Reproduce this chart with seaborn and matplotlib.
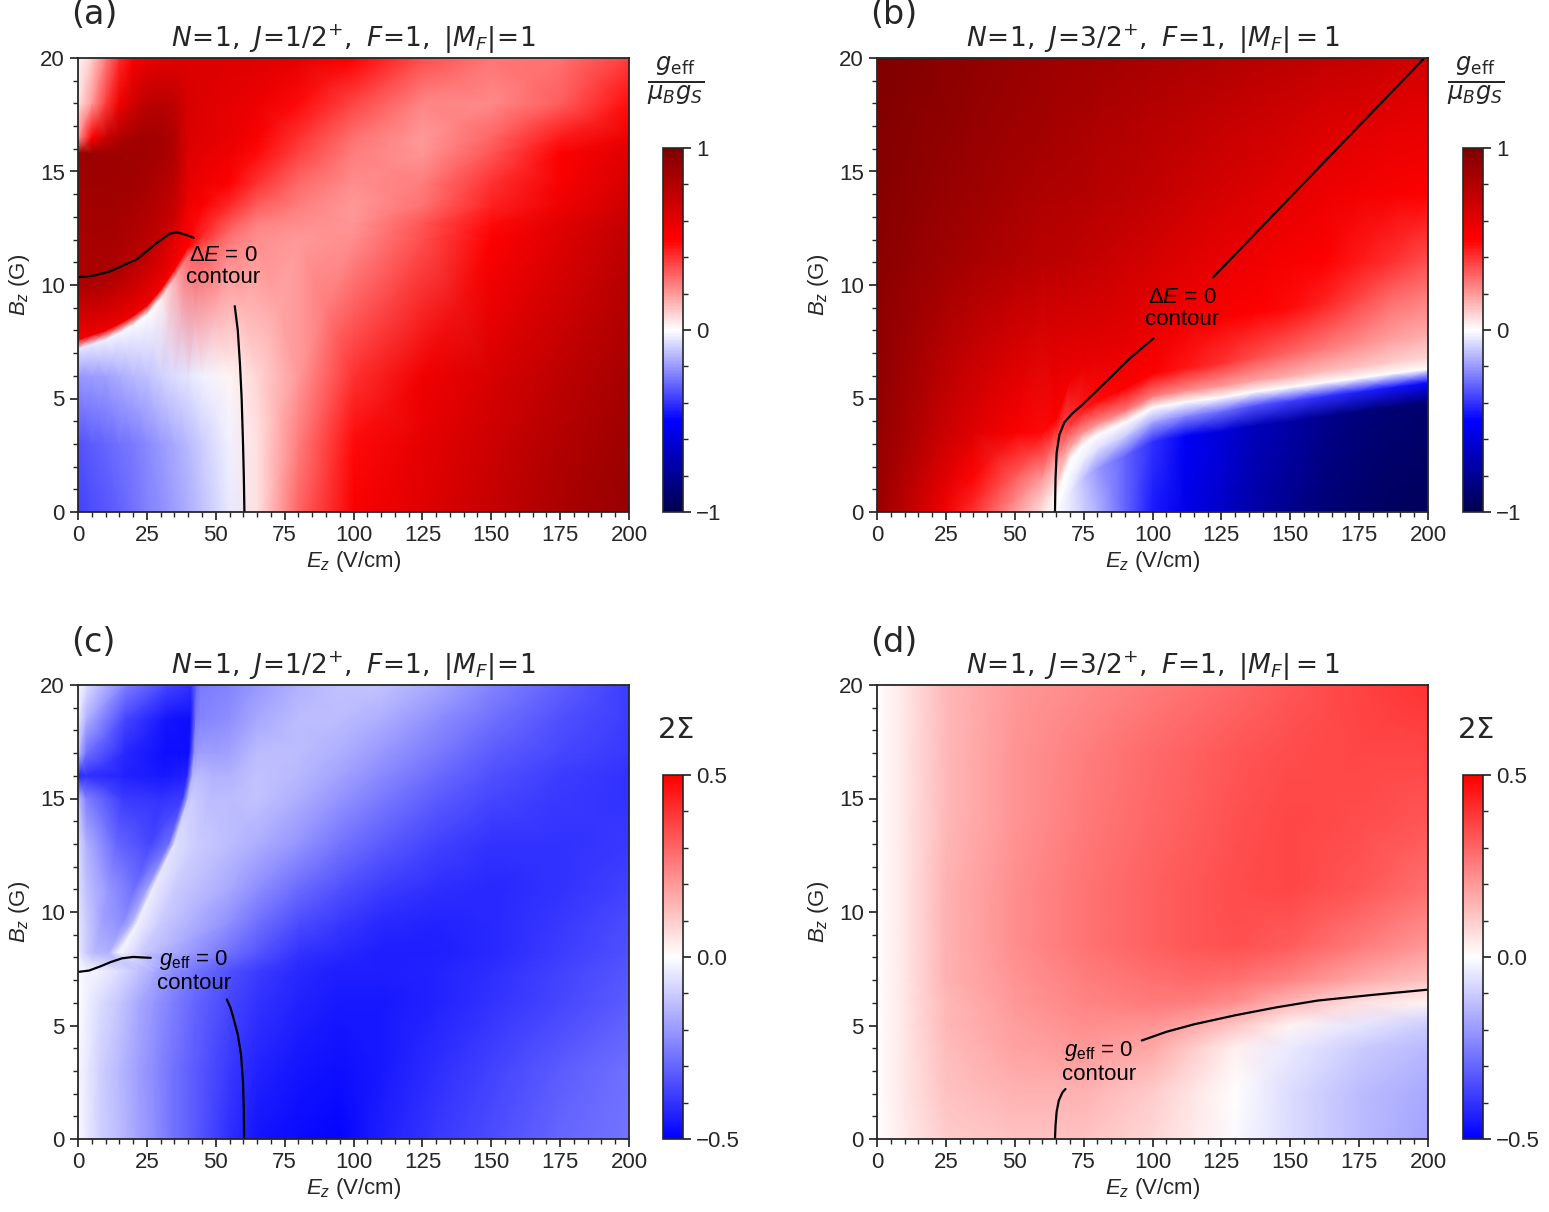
import numpy as np
import matplotlib
matplotlib.use("Agg")
import matplotlib.pyplot as plt
import seaborn as sns
from matplotlib.ticker import MultipleLocator

# ======================= Panel (a): g_eff, N=1, J=1/2+ =======================
# sample columns (E, V/cm); each row of sample B positions (G) follows the
# sharp red/white edge in the upper-left corner
a_E = [0, 5, 10, 15, 20, 25, 30, 35, 40, 45, 55, 65, 80, 100, 125, 150, 175, 200]
a_B_rows = [
    [0] * 18,
    [3] * 18,
    [6] * 18,
    [7.2, 7.4, 7.6, 7.9, 8.25, 8.7, 9.4, 10.3, 11.3, 11.6, 11.8, 12, 12, 12, 12, 12, 12, 12],
    [7.6, 7.8, 8.0, 8.3, 8.65, 9.1, 9.8, 10.7, 11.7, 12.1, 12.4, 12.6, 12.7, 12.7, 12.7, 12.7, 12.7, 12.7],
    [9.8, 10.0, 10.2, 10.5, 10.85, 11.3, 12.0, 12.9, 13.5, 13.5, 13.5, 13.5, 13.5, 13.5, 13.5, 13.5, 13.5, 13.5],
    [14.5] * 18,
    [15.8] * 18,
    [16.5] * 18,
    [18] * 18,
    [20] * 18,
]
a_g = [
    [-0.37, -0.35, -0.33, -0.31, -0.28, -0.25, -0.22, -0.19, -0.16, -0.12, -0.04, 0.06, 0.30, 0.52, 0.62, 0.72, 0.83, 0.90],
    [-0.34, -0.32, -0.30, -0.28, -0.26, -0.23, -0.20, -0.17, -0.14, -0.10, -0.03, 0.06, 0.25, 0.48, 0.60, 0.70, 0.80, 0.88],
    [-0.20, -0.19, -0.18, -0.16, -0.14, -0.12, -0.09, -0.07, -0.05, -0.03, 0.02, 0.08, 0.20, 0.40, 0.55, 0.65, 0.75, 0.85],
    [-0.05, -0.04, -0.03, -0.02, -0.01, 0.00, 0.03, 0.15, 0.30, 0.33, 0.25, 0.22, 0.20, 0.22, 0.35, 0.50, 0.63, 0.75],
    [0.55, 0.57, 0.57, 0.57, 0.57, 0.56, 0.55, 0.52, 0.50, 0.42, 0.30, 0.24, 0.22, 0.21, 0.33, 0.48, 0.61, 0.73],
    [0.82, 0.82, 0.82, 0.80, 0.78, 0.75, 0.72, 0.70, 0.56, 0.52, 0.42, 0.32, 0.25, 0.20, 0.28, 0.43, 0.56, 0.69],
    [0.88, 0.88, 0.88, 0.87, 0.86, 0.84, 0.80, 0.76, 0.60, 0.56, 0.50, 0.40, 0.29, 0.22, 0.25, 0.40, 0.53, 0.66],
    [0.90, 0.89, 0.88, 0.88, 0.87, 0.86, 0.85, 0.80, 0.63, 0.60, 0.56, 0.48, 0.37, 0.25, 0.21, 0.33, 0.50, 0.62],
    [0.20, 0.50, 0.70, 0.80, 0.85, 0.86, 0.85, 0.80, 0.64, 0.62, 0.58, 0.52, 0.40, 0.28, 0.20, 0.30, 0.45, 0.57],
    [0.05, 0.20, 0.38, 0.55, 0.68, 0.75, 0.78, 0.75, 0.65, 0.63, 0.60, 0.57, 0.48, 0.36, 0.24, 0.23, 0.32, 0.47],
    [0.02, 0.10, 0.25, 0.42, 0.52, 0.58, 0.60, 0.62, 0.63, 0.64, 0.63, 0.62, 0.60, 0.50, 0.35, 0.27, 0.28, 0.38],
]
a_c1_E = [0, 5, 11.6, 21.6, 28, 33.3, 36, 39, 42]
a_c1_B = [10.34, 10.4, 10.6, 11.15, 11.8, 12.26, 12.32, 12.22, 12.08]
a_c2_E = [56.9, 58.0, 58.8, 59.4, 59.9, 60.2, 60.4]
a_c2_B = [9.07, 8.0, 6.5, 5.0, 3.0, 1.5, 0.0]

# ======================= Panel (b): g_eff, N=1, J=3/2+ =======================
b_E = [0, 15, 25, 35, 50, 60, 65, 70, 75, 80, 90, 100, 112, 125, 137, 150, 162, 175, 187, 200]
# B of the white (g_eff = 0) edge read at each column
b_B_edge = [0, 0, 0, 0, 0, 0, 0.6, 2.3, 3.0, 3.4, 3.95, 4.6, 4.85, 5.05, 5.3, 5.5, 5.7, 5.9, 6.1, 6.3]
# sample rows: offsets from the edge, then fixed B rows
b_edge_offsets = [-1.5, -0.6, 0.0, 0.5, 1.5, 3.5]
b_B_fixed = [11, 14, 17, 20]
b_g = [
    [0.90, 0.70, 0.55, 0.40, 0.20, 0.07, 0.00, -0.04, -0.10, -0.15, -0.30, -0.45, -0.56, -0.65, -0.75, -0.82, -0.88, -0.92, -0.94, -0.96],
    [0.90, 0.70, 0.55, 0.40, 0.20, 0.07, 0.00, -0.04, -0.12, -0.20, -0.30, -0.40, -0.52, -0.60, -0.68, -0.75, -0.82, -0.86, -0.89, -0.90],
    [0.90, 0.70, 0.55, 0.40, 0.20, 0.07, 0.00, -0.01, -0.03, -0.06, -0.10, -0.16, -0.22, -0.28, -0.33, -0.37, -0.40, -0.43, -0.46, -0.48],
    [0.90, 0.70, 0.55, 0.40, 0.20, 0.07, 0.00, 0.00, 0.00, 0.00, 0.00, 0.00, 0.00, 0.00, 0.00, 0.00, 0.00, 0.00, 0.00, 0.00],
    [0.90, 0.71, 0.57, 0.43, 0.24, 0.10, 0.06, 0.15, 0.20, 0.22, 0.25, 0.25, 0.22, 0.20, 0.18, 0.16, 0.14, 0.12, 0.10, 0.08],
    [0.91, 0.74, 0.61, 0.49, 0.32, 0.20, 0.16, 0.38, 0.45, 0.48, 0.50, 0.50, 0.46, 0.40, 0.35, 0.30, 0.26, 0.22, 0.18, 0.16],
    [0.92, 0.80, 0.70, 0.62, 0.52, 0.48, 0.50, 0.56, 0.58, 0.60, 0.60, 0.58, 0.55, 0.52, 0.50, 0.48, 0.43, 0.36, 0.30, 0.27],
    [0.96, 0.90, 0.87, 0.84, 0.79, 0.77, 0.76, 0.75, 0.73, 0.72, 0.69, 0.66, 0.62, 0.58, 0.56, 0.53, 0.50, 0.45, 0.40, 0.34],
    [0.97, 0.93, 0.90, 0.88, 0.84, 0.82, 0.81, 0.80, 0.79, 0.78, 0.76, 0.74, 0.70, 0.66, 0.63, 0.60, 0.57, 0.54, 0.52, 0.50],
    [0.98, 0.95, 0.93, 0.91, 0.88, 0.86, 0.85, 0.84, 0.83, 0.82, 0.80, 0.78, 0.75, 0.72, 0.70, 0.67, 0.64, 0.62, 0.60, 0.58],
    [1.00, 0.97, 0.95, 0.93, 0.90, 0.89, 0.88, 0.87, 0.87, 0.86, 0.85, 0.83, 0.82, 0.80, 0.78, 0.76, 0.74, 0.72, 0.70, 0.68],
]
b_c1_E = [64.6, 64.8, 65.2, 66.2, 68.0, 71.0, 74.5, 84.8, 92.0, 100.4]
b_c1_B = [0.0, 1.5, 2.6, 3.4, 3.95, 4.35, 4.72, 5.94, 6.8, 7.65]
b_c2_E = [122.0, 198.3]
b_c2_B = [10.34, 19.95]

# ======================= Panel (c): 2Sigma, N=1, J=1/2+ =======================
c_B = [0, 3, 6, 7.4, 8.2, 9.5, 11, 13, 15, 16, 17, 18.5, 20]
# per-row sample E positions: the first nine follow the light curved edge
c_E_rows = [
    [0, 3, 8, 15, 22, 28, 34, 42, 55],
    [0, 3, 8, 15, 22, 28, 34, 42, 55],
    [0, 3, 8, 15, 22, 28, 34, 42, 55],
    [0, 3, 8, 15, 22, 28, 34, 42, 55],
    [0, 3, 6, 11, 13, 15, 16.5, 23, 55],
    [0, 3, 8.6, 16.1, 19.5, 21.5, 23, 29.5, 55],
    [0, 3, 10.8, 20.3, 25, 27, 28.5, 35, 55],
    [0, 3, 14, 26.3, 33, 35, 36.5, 43, 55],
    [0, 3, 16, 30, 38, 40, 41.5, 48, 55],
    [0, 3, 16.6, 31.1, 39.5, 41.5, 43, 49.5, 55],
    [0, 3, 16.9, 31.7, 40.3, 42.3, 43.8, 50.3, 55],
    [0, 3, 17.1, 32.1, 40.8, 42.8, 44.3, 50.8, 55],
    [0, 3, 17.2, 32.3, 41, 43, 44.5, 51, 55],
]
c_E_right = [65, 80, 95, 110, 130, 150, 175, 200]
c_s = [
    [-0.01, -0.04, -0.09, -0.13, -0.18, -0.22, -0.27, -0.32, -0.41, -0.46, -0.48, -0.49, -0.44, -0.39, -0.35, -0.30, -0.27],
    [-0.02, -0.04, -0.09, -0.14, -0.19, -0.23, -0.27, -0.32, -0.39, -0.43, -0.46, -0.47, -0.45, -0.41, -0.37, -0.32, -0.28],
    [0.00, -0.03, -0.07, -0.11, -0.17, -0.21, -0.25, -0.30, -0.36, -0.40, -0.43, -0.45, -0.45, -0.43, -0.40, -0.36, -0.32],
    [-0.01, -0.02, -0.03, -0.07, -0.12, -0.17, -0.22, -0.27, -0.34, -0.38, -0.42, -0.44, -0.44, -0.43, -0.41, -0.37, -0.33],
    [-0.04, -0.10, -0.14, -0.15, -0.08, -0.02, -0.03, -0.10, -0.28, -0.33, -0.40, -0.42, -0.44, -0.44, -0.42, -0.38, -0.34],
    [-0.05, -0.10, -0.18, -0.22, -0.15, -0.03, -0.04, -0.10, -0.22, -0.28, -0.35, -0.39, -0.42, -0.43, -0.42, -0.39, -0.35],
    [-0.06, -0.12, -0.20, -0.28, -0.18, -0.04, -0.05, -0.10, -0.17, -0.22, -0.29, -0.34, -0.38, -0.41, -0.42, -0.40, -0.37],
    [-0.07, -0.15, -0.30, -0.36, -0.28, -0.06, -0.07, -0.10, -0.13, -0.16, -0.21, -0.27, -0.32, -0.37, -0.40, -0.40, -0.39],
    [-0.12, -0.25, -0.38, -0.40, -0.38, -0.12, -0.10, -0.13, -0.13, -0.12, -0.16, -0.21, -0.26, -0.32, -0.36, -0.39, -0.40],
    [-0.42, -0.40, -0.43, -0.45, -0.43, -0.15, -0.13, -0.15, -0.15, -0.12, -0.14, -0.18, -0.23, -0.29, -0.34, -0.38, -0.40],
    [-0.12, -0.28, -0.42, -0.47, -0.47, -0.20, -0.19, -0.19, -0.18, -0.13, -0.13, -0.16, -0.20, -0.26, -0.32, -0.36, -0.39],
    [-0.04, -0.15, -0.36, -0.46, -0.47, -0.26, -0.24, -0.23, -0.22, -0.17, -0.13, -0.13, -0.16, -0.22, -0.28, -0.34, -0.38],
    [-0.01, -0.06, -0.25, -0.36, -0.40, -0.30, -0.26, -0.25, -0.24, -0.20, -0.15, -0.12, -0.12, -0.17, -0.24, -0.31, -0.38],
]
c_c1_E = [0, 4, 8, 12, 16, 20, 26.4]
c_c1_B = [7.36, 7.42, 7.6, 7.8, 7.96, 8.02, 7.98]
c_c2_E = [54.0, 55.3, 56.5, 58.0, 59.2, 59.9, 60.2, 60.3]
c_c2_B = [6.15, 5.8, 5.3, 4.6, 3.7, 2.5, 1.2, 0.0]

# ======================= Panel (d): 2Sigma, N=1, J=3/2+ =======================
d_E = [0, 10, 25, 50, 75, 100, 115, 130, 150, 175, 200]
d_B = [0, 2, 4, 5, 6, 7, 8.5, 11, 14, 17, 20]
d_s = [
    [0.00, 0.04, 0.10, 0.12, 0.12, 0.08, 0.04, -0.01, -0.07, -0.13, -0.18],
    [0.00, 0.05, 0.12, 0.15, 0.15, 0.10, 0.05, 0.00, -0.07, -0.13, -0.17],
    [0.00, 0.05, 0.13, 0.18, 0.20, 0.17, 0.10, 0.03, -0.04, -0.10, -0.14],
    [0.00, 0.05, 0.14, 0.19, 0.22, 0.21, 0.17, 0.11, 0.02, -0.05, -0.10],
    [0.00, 0.05, 0.14, 0.20, 0.24, 0.26, 0.25, 0.22, 0.14, 0.06, 0.02],
    [0.00, 0.05, 0.15, 0.21, 0.25, 0.28, 0.29, 0.28, 0.24, 0.17, 0.12],
    [0.00, 0.05, 0.15, 0.22, 0.27, 0.31, 0.33, 0.34, 0.32, 0.26, 0.20],
    [0.00, 0.05, 0.15, 0.22, 0.27, 0.31, 0.33, 0.35, 0.36, 0.33, 0.28],
    [0.00, 0.05, 0.14, 0.21, 0.26, 0.30, 0.32, 0.34, 0.36, 0.35, 0.33],
    [0.00, 0.05, 0.14, 0.21, 0.25, 0.29, 0.31, 0.33, 0.35, 0.36, 0.36],
    [0.00, 0.05, 0.14, 0.20, 0.23, 0.26, 0.28, 0.30, 0.33, 0.37, 0.40],
]
d_c1_E = [64.6, 64.8, 65.2, 66.0, 67.3, 68.4]
d_c1_B = [0.0, 0.6, 1.2, 1.7, 2.05, 2.2]
d_c2_E = [96.1, 105, 115, 130, 145, 160, 180, 200]
d_c2_B = [4.34, 4.72, 5.05, 5.45, 5.8, 6.1, 6.35, 6.58]

titles = [
    r"$N\!=\!1,\ J\!=\!1/2^{+},\ F\!=\!1,\ |M_F|\!=\!1$",
    r"$N\!=\!1,\ J\!=\!3/2^{+},\ F\!=\!1,\ |M_F| = 1$",
    r"$N\!=\!1,\ J\!=\!1/2^{+},\ F\!=\!1,\ |M_F|\!=\!1$",
    r"$N\!=\!1,\ J\!=\!3/2^{+},\ F\!=\!1,\ |M_F| = 1$",
]
panel_labels = ["(a)", "(b)", "(c)", "(d)"]

# ---------------- sample grids ----------------
a_X = np.tile(np.array(a_E, float), (len(a_B_rows), 1))
a_Y = np.array(a_B_rows, float)

b_edge = np.array(b_B_edge, float)
b_Y = np.vstack([np.zeros_like(b_edge)]
                + [np.clip(b_edge + o, 0, 20) for o in b_edge_offsets]
                + [np.full_like(b_edge, v) for v in b_B_fixed])
b_X = np.tile(np.array(b_E, float), (b_Y.shape[0], 1))

c_X = np.array([row + c_E_right for row in c_E_rows], float)
c_Y = np.tile(np.array(c_B, float)[:, None], (1, c_X.shape[1]))

d_X, d_Y = np.meshgrid(np.array(d_E, float), np.array(d_B, float))

# ---------------- style ----------------
sns.set_theme(style="ticks")
plt.rcParams["font.family"] = ["Liberation Sans", "DejaVu Sans"]
plt.rcParams["mathtext.fontset"] = "custom"
plt.rcParams["mathtext.rm"] = "Liberation Sans"
plt.rcParams["mathtext.it"] = "Liberation Sans:italic"
plt.rcParams["mathtext.bf"] = "Liberation Sans:bold"
plt.rcParams["xtick.major.size"] = 6
plt.rcParams["ytick.major.size"] = 6
plt.rcParams["xtick.minor.size"] = 3.5
plt.rcParams["ytick.minor.size"] = 3.5
plt.rcParams["xtick.minor.visible"] = True
plt.rcParams["ytick.minor.visible"] = True

W, H = 1549, 1212
fig = plt.figure(figsize=(W / 100, H / 100), dpi=100)


def fx(px):
    return px / W


def fy(py):
    return 1 - py / H


ax_left = [78, 877]
ax_top = [58, 685]
cb_left = [663, 1463]

panels = [
    (a_X, a_Y, a_g, "seismic", -1, 1, [(a_c1_E, a_c1_B), (a_c2_E, a_c2_B)],
     "Δ$E$ = 0\ncontour", (52.7, 10.8)),
    (b_X, b_Y, b_g, "seismic", -1, 1, [(b_c1_E, b_c1_B), (b_c2_E, b_c2_B)],
     "Δ$E$ = 0\ncontour", (110.8, 8.96)),
    (c_X, c_Y, c_s, "bwr", -0.5, 0.5, [(c_c1_E, c_c1_B), (c_c2_E, c_c2_B)],
     "$g_{\\rm eff}$ = 0\ncontour", (42.0, 7.4)),
    (d_X, d_Y, d_s, "bwr", -0.5, 0.5, [(d_c1_E, d_c1_B), (d_c2_E, d_c2_B)],
     "$g_{\\rm eff}$ = 0\ncontour", (80.5, 3.4)),
]

for i, (X, Y, Z, cmap, vmin, vmax, contours, note, note_xy) in enumerate(panels):
    col = i % 2
    row = i // 2
    L = ax_left[col]
    T = ax_top[row]
    ax = fig.add_axes([fx(L), fy(T + 454), 551 / W, 454 / H])
    mesh = ax.pcolormesh(X, Y, np.array(Z, float), shading="gouraud",
                         cmap=cmap, vmin=vmin, vmax=vmax)
    for (ce, cb) in contours:
        sns.lineplot(x=ce, y=cb, sort=False, estimator=None, color="black",
                     linewidth=1.6, ax=ax)
    ax.text(note_xy[0], note_xy[1], note, ha="center", va="center",
            fontsize=16, multialignment="center", linespacing=1.05, color="black")
    ax.set_xlim(0, 200)
    ax.set_ylim(0, 20)
    ax.set_xticks(np.arange(0, 201, 25))
    ax.set_yticks(np.arange(0, 21, 5))
    ax.xaxis.set_minor_locator(MultipleLocator(5))
    ax.yaxis.set_minor_locator(MultipleLocator(1))
    ax.tick_params(labelsize=16)
    ax.set_xlabel(r"$E_z$ (V/cm)", fontsize=16, labelpad=2)
    ax.set_ylabel(r"$B_z$ (G)", fontsize=16, labelpad=6)
    ax.set_title(titles[i], fontsize=19, family="DejaVu Sans",
                 math_fontfamily="dejavusans", pad=8)
    for s in ax.spines.values():
        s.set_linewidth(1.3)

    cax = fig.add_axes([fx(cb_left[col]), fy(T + 454), 20 / W, 364 / H])
    cbar = fig.colorbar(mesh, cax=cax)
    if vmax == 1:
        cbar.set_ticks([-1, 0, 1])
        cax.yaxis.set_minor_locator(MultipleLocator(0.2))
    else:
        cbar.set_ticks([-0.5, 0.0, 0.5])
        cax.yaxis.set_minor_locator(MultipleLocator(0.1))
    cax.tick_params(labelsize=16)
    cbar.outline.set_linewidth(1.2)

    lx = cb_left[col] + 13
    if vmax == 1:
        fig.text(fx(lx), fy(T + 23), r"$\frac{g_{\rm eff}}{\mu_B g_S}$",
                 ha="center", va="center", fontsize=25,
                 family="DejaVu Sans", math_fontfamily="dejavusans")
    else:
        fig.text(fx(lx), fy(T + 45), r"$2\Sigma$", ha="center", va="center",
                 fontsize=21, family="DejaVu Sans", math_fontfamily="dejavusans")

    fig.text(fx(L - 7), fy(T - 43), panel_labels[i], ha="left", va="center",
             fontsize=24, family="DejaVu Sans")

fig.savefig("out.png", dpi=100)
